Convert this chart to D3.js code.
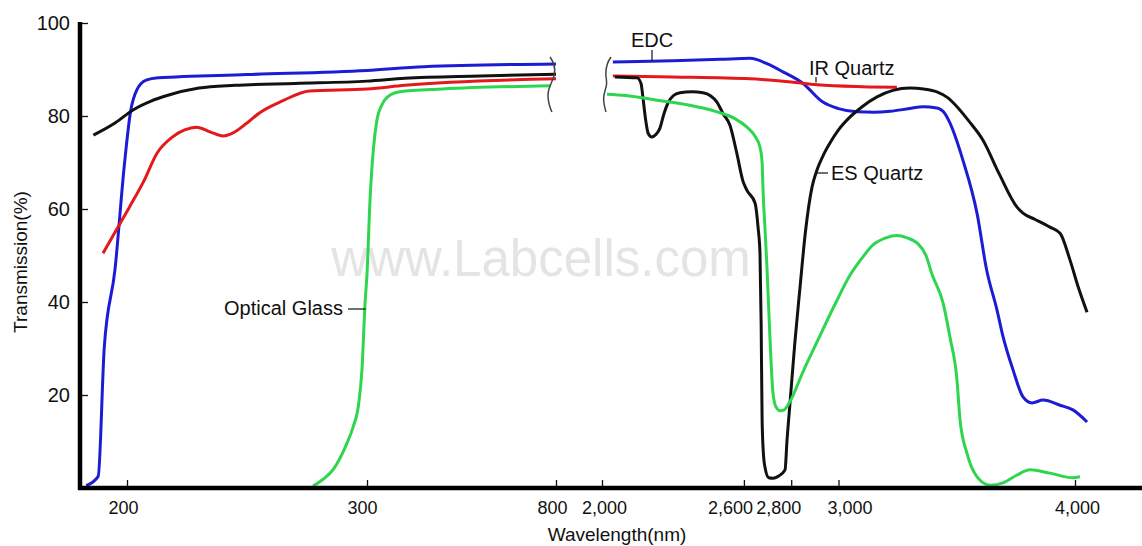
<!DOCTYPE html>
<html>
<head>
    <script src="https://d3js.org/d3.v7.min.js"></script>
    <style>
        body { margin: 0; background: #fff; }
        svg { font-family: "Liberation Sans", Arial, sans-serif; }
    </style>
</head>
<body>
    <div id="chart"></div>

    <script>
        // Transmission curves, [wavelength nm, transmission %]
        // left (UV/visible) and right (IR) parts of the broken axis
        var edcLeft = [[183,0.5],[188,2.5],[190.5,30],[195,47],[199,70],[201.5,81],[204,85.5],[208,87.7],[213,88.2],
            [250,88.9],[300,89.8],[450,90.6],[800,91.2]];
        var edcRight = [[2046,91.6],[2300,91.9],[2500,92.2],[2626,92.4],[2700,91.2],[2765,89.5],[2850,87],[2934,83],
            [3000,81.6],[3078,80.9],[3150,80.8],[3218,81],[3300,81.6],[3357,82],[3416,81.7],[3450,80.5],[3471,78.5],
            [3526,70.5],[3586,59],[3626,47],[3670,38.3],[3696,32.5],[3738,25.4],[3780,19.6],[3818,18.3],[3865,18.9],
            [3937,17.8],[3991,16.8],[4051,14.2]];

        var irLeft = [[190,50.5],[195,55],[201,60.4],[207,66],[212.5,72],[219,75.5],[224,77],[229,77.6],[234.6,76.6],
            [240,75.7],[244,76.3],[250,78.5],[255,80.6],[265,83.3],[276,85.4],[300,85.8],[400,86.6],[800,88]];
        var irRight = [[2046,88.6],[2300,88.4],[2626,88.0],[2800,87.3],[2909,86.7],[3100,86.3],[3247,86.2]];

        var esLeft = [[186,75.9],[195,78.5],[202.5,81.3],[210,83.2],[216.7,84.4],[230,86],[245,86.6],[270,87],
            [300,87.5],[400,88.1],[600,88.6],[800,89]];
        var esRight = [[2055,88.4],[2148,88.2],[2165,87],[2173,84],[2185,79],[2195,76.3],[2211,75.5],[2228,76],
            [2245,77.4],[2262,80.5],[2279,82.8],[2300,84.3],[2330,85],[2380,85.2],[2427,85],[2460,84.3],[2486,83],
            [2512,80.5],[2541,78],[2570,72],[2596,66],[2613,64],[2647,61.3],[2660,56],[2668,50.5],[2673,35],
            [2677,14.6],[2683,7],[2689,4.5],[2705,2.2],[2723,2.1],[2745,2.5],[2774,3.9],[2782,10],[2795,18.3],
            [2815,31],[2837,43],[2860,55],[2888,64.7],[2909,68.4],[2935,71.5],[2964,74.2],[3000,77],[3049,79.8],
            [3100,82],[3163,84.1],[3230,85.5],[3302,86],[3360,85.8],[3416,85.2],[3460,84],[3501,82],[3550,79],
            [3611,74.8],[3680,67.5],[3755,60.4],[3780,59.1],[3830,57.8],[3894,56.1],[3937,54.8],[3979,49],
            [4015,43],[4051,37.8]];

        var ogLeft = [[277.5,0.4],[282,2],[285.8,3.9],[291.7,9.7],[294.2,13.1],[296.5,18],[297.9,25.4],[299.2,39.8],
            [300,46],[308,62],[317,73],[326,79],[340,82.5],[353,84],[387,85.2],[500,85.8],[786,86.5]];
        var ogRight = [[2021,84.7],[2100,84.4],[2233,83.4],[2350,82.5],[2486,80.9],[2560,79.5],[2613,77.6],
            [2645,75.8],[2668,73.3],[2677,70],[2681,64],[2690,55],[2698,46.9],[2710,32.5],[2723,20.4],[2735,17.5],
            [2753,16.6],[2770,16.8],[2795,18.6],[2850,25],[2909,31.4],[2990,40],[3049,45.8],[3100,49.5],
            [3146,52.3],[3200,53.8],[3247,54.3],[3290,53.8],[3332,52.7],[3370,50],[3395,46],[3442,39.8],
            [3471,32.5],[3501,23.2],[3514,14.6],[3543,7.5],[3586,2.4],[3641,0.6],[3696,1.1],[3755,2.8],
            [3810,3.9],[3894,3.2],[3991,2.2],[4021,2.4]];

        var xTicks = [200, 300, 800, 2000, 2600, 2800, 3000, 4000];
        var yTicks = [20, 40, 60, 80, 100];

        var series = [
            { name: "EDC", color: "#1c1cd4", parts: [edcLeft, edcRight] },
            { name: "IR Quartz", color: "#e3191c", parts: [irLeft, irRight] },
            { name: "ES Quartz", color: "#111111", parts: [esLeft, esRight] },
            { name: "Optical Glass", color: "#2ed64f", parts: [ogLeft, ogRight] }
        ];

        var width = 1142, height = 546;

        var svg = d3.select("#chart")
            .append("svg")
            .attr("width", width)
            .attr("height", height);

        // broken wavelength axis: piecewise linear scale
        var x = d3.scaleLinear()
            .domain([200, 300, 800, 2000, 4000])
            .range([127, 367, 556, 602, 1075]);

        var y = d3.scaleLinear()
            .domain([0, 100])
            .range([488, 23]);

        // watermark
        svg.append("text")
            .attr("x", 541)
            .attr("y", 276)
            .attr("text-anchor", "middle")
            .style("font-size", "51px")
            .style("fill", "#e4e4e4")
            .text("www.Labcells.com");

        var line = d3.line()
            .x(function(d) { return x(d[0]); })
            .y(function(d) { return y(d[1]); })
            .curve(d3.curveMonotoneX);

        series.forEach(function(s) {
            s.parts.forEach(function(p) {
                svg.append("path")
                    .datum(p)
                    .attr("fill", "none")
                    .attr("stroke", s.color)
                    .attr("stroke-width", 3)
                    .attr("stroke-linejoin", "round")
                    .attr("d", line);
            });
        });

        // break marks
        var squiggle = d3.line().curve(d3.curveBasis);
        var bx1 = x(800) - 4, bx2 = x(2000) + 7;
        svg.append("path")
            .attr("d", squiggle([[bx1 - 2, 57], [bx1 + 2, 63], [bx1 + 4, 75], [bx1 - 6, 92], [bx1 - 2, 108], [bx1, 112]]))
            .attr("fill", "none").attr("stroke", "#444").attr("stroke-width", 1.5);
        svg.append("path")
            .attr("d", squiggle([[bx2 + 2, 57], [bx2 - 2, 63], [bx2 - 4, 75], [bx2 - 1, 84], [bx2 - 7, 97], [bx2 - 3, 112]]))
            .attr("fill", "none").attr("stroke", "#444").attr("stroke-width", 1.5);

        // axes
        // labels on the crowded ticks sit a little off their ticks, as in the original figure
        var labelNudge = { 200: -4, 300: -5, 800: -4, 2000: 2, 2600: -14, 2800: -13, 3000: 11, 4000: 2 };
        var xAxis = svg.append("g")
            .attr("transform", "translate(0," + y(0) + ")")
            .call(d3.axisBottom(x).tickValues(xTicks).tickFormat(d3.format(",")).tickSize(-8).tickPadding(13));
        xAxis.select(".domain").remove();
        xAxis.selectAll("line").attr("stroke", "#111").attr("stroke-width", 1.3);
        xAxis.selectAll("text")
            .style("font-size", "18px")
            .attr("fill", "#111")
            .attr("dx", function(d) { return labelNudge[d] || 0; });

        var yAxis = svg.append("g")
            .attr("transform", "translate(80,0)")
            .call(d3.axisLeft(y).tickValues(yTicks).tickSize(-8).tickPadding(10));
        yAxis.select(".domain").remove();
        yAxis.selectAll("line").attr("stroke", "#111").attr("stroke-width", 1.3);
        yAxis.selectAll("text").style("font-size", "20px").attr("fill", "#111");

        svg.append("line")
            .attr("x1", 80).attr("x2", 80)
            .attr("y1", y(100) - 1).attr("y2", y(0) + 2)
            .attr("stroke", "#000").attr("stroke-width", 4.5);
        svg.append("line")
            .attr("x1", 78).attr("x2", width)
            .attr("y1", y(0)).attr("y2", y(0))
            .attr("stroke", "#000").attr("stroke-width", 4.5);

        // axis titles
        svg.append("text")
            .attr("transform", "translate(27,262) rotate(-90)")
            .attr("text-anchor", "middle")
            .style("font-size", "19px")
            .attr("fill", "#111")
            .text("Transmission(%)");
        svg.append("text")
            .attr("x", 617)
            .attr("y", 541)
            .attr("text-anchor", "middle")
            .style("font-size", "19px")
            .attr("fill", "#111")
            .text("Wavelength(nm)");

        // curve annotations
        function note(label, tx, ty, anchor, lx1, ly1, lx2, ly2) {
            svg.append("text")
                .attr("x", tx).attr("y", ty)
                .attr("text-anchor", anchor)
                .style("font-size", "20px")
                .attr("fill", "#111")
                .text(label);
            svg.append("line")
                .attr("x1", lx1).attr("y1", ly1)
                .attr("x2", lx2).attr("y2", ly2)
                .attr("stroke", "#222").attr("stroke-width", 1.3);
        }
        note("EDC", 652, 47, "middle", 652, 50, 652, y(91.8));
        note("IR Quartz", 809, 75, "start", 816, 77, 816, y(87.2));
        note("ES Quartz", 831, 180, "start", 817, 173, 828, 173);
        note("Optical Glass", 343, 315, "end", 348, 309, x(299.5), 309);
    </script>
</body>
</html>
